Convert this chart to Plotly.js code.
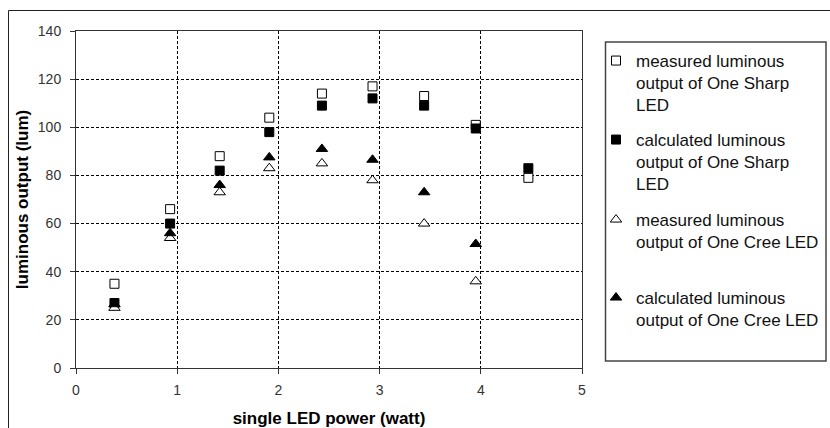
<!DOCTYPE html>
<html>
<head>
<meta charset="utf-8">
<script src="https://cdn.plot.ly/plotly-3.0.1.min.js"></script>
<style>
  html, body { margin: 0; padding: 0; background: #fff; }
  #chart { width: 830px; height: 428px; }
</style>
</head>
<body>
<div id="chart"></div>
<script>
// Single LED power (W) at each test point
const powerSharp = [0.38, 0.93, 1.42, 1.91, 2.43, 2.93, 3.44, 3.95, 4.47];
const powerCree  = [0.38, 0.93, 1.42, 1.91, 2.43, 2.93, 3.44, 3.95];

// Luminous output (lum)
const measuredSharp   = [35, 66, 88, 104, 114, 117, 113, 101, 79];
const calculatedSharp = [27, 60, 82, 98, 109, 112, 109, 99.5, 83];
const measuredCree    = [25, 54, 73, 83, 85, 78, 60, 36];
const calculatedCree  = [26.5, 56, 76, 87.5, 91, 86.5, 73, 51.5];

const seriesNames = [
  'measured luminous<br>output of One Sharp<br>LED',
  'calculated luminous<br>output of One Sharp<br>LED',
  'measured luminous<br>output of One Cree LED',
  'calculated luminous<br>output of One Cree LED'
];

const xTicks = [0, 1, 2, 3, 4, 5];
const yTicks = [0, 20, 40, 60, 80, 100, 120, 140];

// Figure geometry (pixels) used to place the frame and legend blocks
const W = 830, H = 428;
const M = { l: 76, r: 248, t: 31, b: 60, autoexpand: false };
const plotW = W - M.l - M.r, plotH = H - M.t - M.b;
const px2x = p => (p - M.l) / plotW;
const px2y = p => (H - M.b - p) / plotH;

const FONT = 'Liberation Sans, Arial, Helvetica, sans-serif';

function markerStyle(symbol, size, filled) {
  return {
    symbol: symbol,
    size: size,
    color: filled ? '#000' : '#fff',
    line: { color: '#000', width: 1 }
  };
}

const traces = [
  { x: powerSharp, y: measuredSharp,   name: seriesNames[0], legend: 'legend',  marker: markerStyle('square', 9, false) },
  { x: powerSharp, y: calculatedSharp, name: seriesNames[1], legend: 'legend2', marker: markerStyle('square', 9, true) },
  { x: powerCree,  y: measuredCree,    name: seriesNames[2], legend: 'legend3', marker: markerStyle('triangle-up', 10, false) },
  { x: powerCree,  y: calculatedCree,  name: seriesNames[3], legend: 'legend4', marker: markerStyle('triangle-up', 10, true) }
].map(t => Object.assign({ type: 'scatter', mode: 'markers', cliponaxis: false }, t));

// Each series gets its own legend block so the spacing between entries can be set
const legendTops = [43, 122, 202, 280];
function legendBlock(topPx) {
  return {
    x: px2x(596), xanchor: 'left',
    y: px2y(topPx), yanchor: 'top',
    bgcolor: 'rgba(0,0,0,0)',
    borderwidth: 0,
    valign: 'top',
    font: { family: FONT, size: 17, color: '#111' }
  };
}

const axisCommon = {
  showline: true,
  mirror: true,
  linecolor: '#333',
  linewidth: 1,
  ticks: 'outside',
  ticklen: 5,
  tickwidth: 1,
  tickcolor: '#333',
  showgrid: true,
  gridcolor: '#000',
  gridwidth: 1,
  griddash: '3px,2px',
  zeroline: false,
  automargin: false,
  tickfont: { family: FONT, size: 14, color: '#333' },
  fixedrange: true
};

const layout = {
  width: W,
  height: H,
  margin: M,
  paper_bgcolor: '#fff',
  plot_bgcolor: '#fff',
  showlegend: true,
  xaxis: Object.assign({}, axisCommon, {
    range: [0, 5],
    tickvals: xTicks,
    ticktext: xTicks.map(String),
    ticklabelstandoff: 4,
    title: { text: 'single LED power (watt)', font: { family: FONT, size: 17, color: '#000', weight: 'bold' }, standoff: 17 }
  }),
  yaxis: Object.assign({}, axisCommon, {
    range: [0, 140],
    tickvals: yTicks,
    ticktext: yTicks.map(String),
    ticklabelstandoff: 6,
    title: { text: 'luminous output (lum)', font: { family: FONT, size: 17, color: '#000', weight: 'bold' }, standoff: 4 }
  }),
  legend: legendBlock(legendTops[0]),
  legend2: legendBlock(legendTops[1]),
  legend3: legendBlock(legendTops[2]),
  legend4: legendBlock(legendTops[3]),
  shapes: [
    // outer chart frame
    { type: 'rect', xref: 'paper', yref: 'paper', layer: 'below',
      x0: px2x(8.5), x1: px2x(840), y0: px2y(440), y1: px2y(10.5),
      line: { color: '#222', width: 1 }, fillcolor: 'rgba(0,0,0,0)' },
    // legend box
    { type: 'rect', xref: 'paper', yref: 'paper', layer: 'below',
      x0: px2x(605.5), x1: px2x(826), y0: px2y(361), y1: px2y(42),
      line: { color: '#444', width: 1.5 }, fillcolor: 'rgba(0,0,0,0)' }
  ]
};

Plotly.newPlot('chart', traces, layout, { displayModeBar: false, staticPlot: true });
</script>
</body>
</html>
